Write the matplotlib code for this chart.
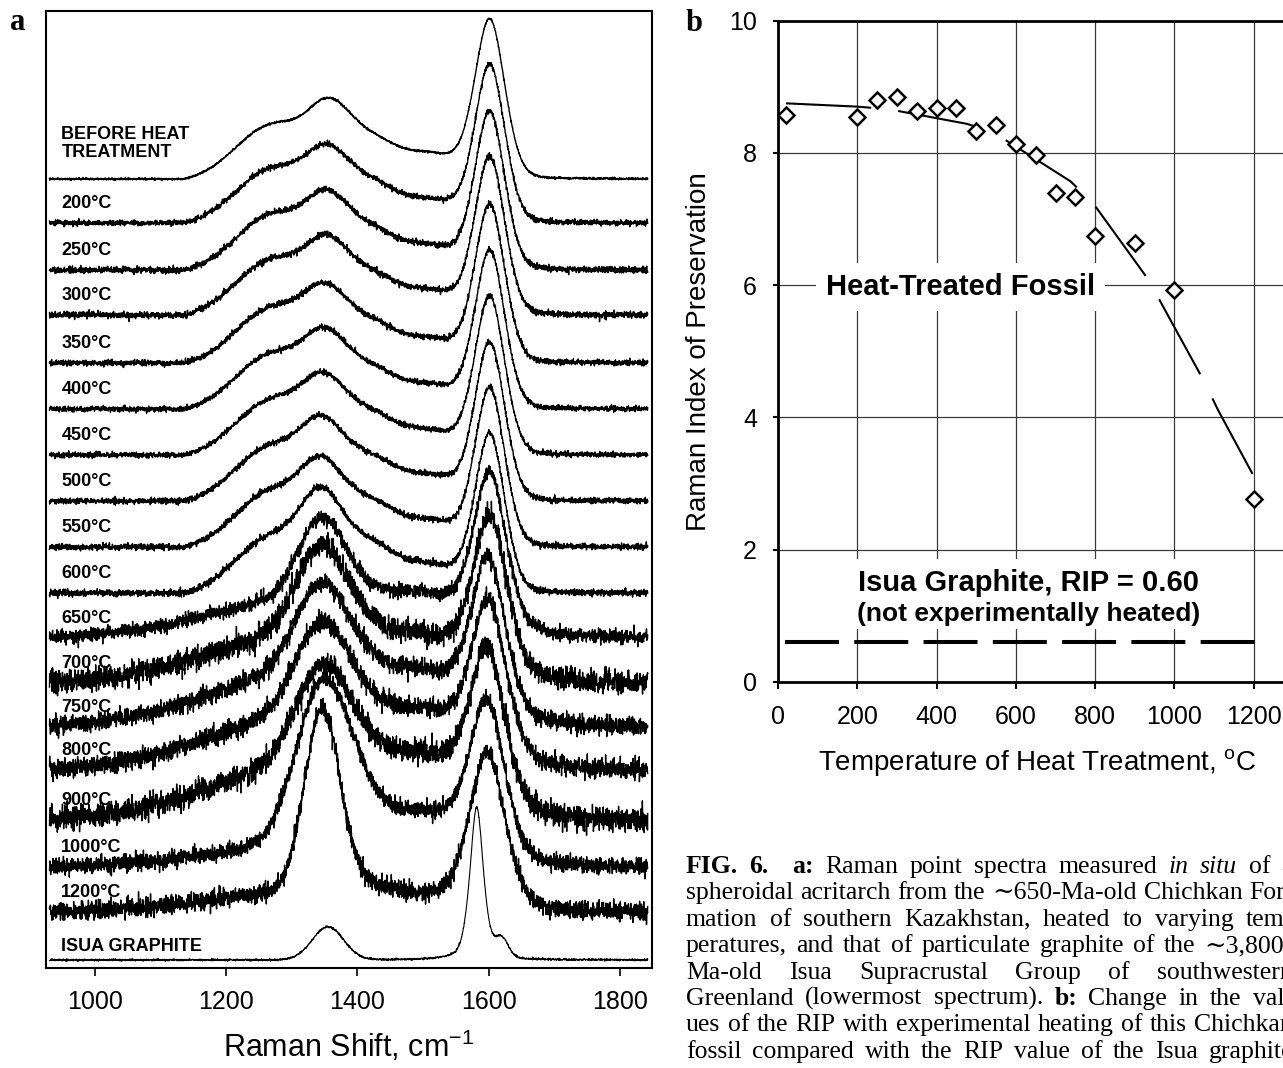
import numpy as np
import matplotlib
matplotlib.use("Agg")
import matplotlib.pyplot as plt
from matplotlib.patches import Rectangle

plt.rcParams['font.family'] = ['Liberation Sans', 'DejaVu Sans']
plt.rcParams['mathtext.fontset'] = 'custom'
plt.rcParams['mathtext.rm'] = 'Liberation Sans'
plt.rcParams['mathtext.it'] = 'Liberation Sans:italic'
plt.rcParams['mathtext.bf'] = 'Liberation Sans:bold'

# ---- panel a: stacked Raman spectra (band heights in plot units) ----
spec_labels = ['BEFORE HEAT\nTREATMENT', '200°C', '250°C', '300°C', '350°C', '400°C',
               '450°C', '500°C', '550°C', '600°C', '650°C', '700°C', '750°C', '800°C',
               '900°C', '1000°C', '1200°C', 'ISUA GRAPHITE']
spec_offset = [789, 745, 698, 653, 605, 559, 513, 467, 421, 375, 330, 285, 241, 198, 148, 101, 56, 8]
shoulder_h = [55, 55, 56, 56, 56, 56, 56, 56, 57, 58, 0, 0, 0, 0, 0, 0, 0, 0]
wing_h = [0, 0, 0, 0, 0, 0, 0, 0, 0, 0, 40, 50, 55, 55, 55, 22, 20, 0]
d_h = [45, 43, 44, 44, 44, 45, 46, 48, 52, 66, 78, 85, 85, 88, 95, 155, 180, 33]
d_pos = [1355, 1352, 1352, 1352, 1350, 1350, 1348, 1346, 1345, 1345, 1345, 1345, 1345, 1345, 1345, 1346, 1346, 1355]
d_w = [30, 30, 30, 30, 30, 30, 30, 30, 30, 30, 35, 38, 40, 40, 40, 40, 27, 24]
r_h = [40, 40, 40, 40, 40, 40, 41, 42, 44, 48, 10, 10, 12, 15, 20, 35, 10, 0]
v_h = [24, 22, 23, 23, 23, 23, 23, 24, 25, 27, 22, 20, 27, 30, 35, 40, 5, 0]
g_h = [156, 155, 155, 155, 155, 155, 155, 155, 155, 155, 155, 155, 155, 155, 155, 155, 155, 153]
g_pos = [1602, 1602, 1602, 1602, 1602, 1602, 1602, 1602, 1602, 1602, 1602, 1602, 1600, 1600, 1598, 1598, 1598, 1582]
g_w = [23, 23, 23, 23, 23, 23, 23, 23, 23, 23, 26, 27, 27, 28, 28, 28, 28, 11]
g_lor = [0.15] * 10 + [0.3] * 7 + [0.5]
dprime_h = [0] * 17 + [18]
noise = [0.5, 1.3, 1.5, 1.5, 1.4, 1.3, 1.3, 1.4, 1.5, 1.6, 3.4, 5.5, 4.2, 4.6, 5.6, 4.0, 4.5, 0.5]
onset = 1135

# ---- panel b: RIP vs. heat treatment ----
temps = [20, 200, 250, 300, 350, 400, 450, 500, 550, 600, 650, 700, 750, 800, 900, 1000, 1200]
rip = [8.58, 8.55, 8.80, 8.84, 8.63, 8.68, 8.68, 8.33, 8.42, 8.14, 7.97, 7.39, 7.34, 6.75, 6.64, 5.93, 2.76]
trend_t = [20, 200, 280, 476, 541, 738, 796, 937, 971, 1078, 1110, 1200]
trend_rip = [8.75, 8.70, 8.66, 8.44, 8.32, 7.57, 7.23, 6.06, 5.68, 4.51, 4.11, 3.11]
ISUA_RIP = 0.60

caption = [
    "**FIG.** **6.**  **a:** Raman point spectra measured *in* *situ* of a",
    "spheroidal acritarch from the \u223c650-Ma-old Chichkan For-",
    "mation of southern Kazakhstan, heated to varying tem-",
    "peratures, and that of particulate graphite of the \u223c3,800-",
    "Ma-old Isua Supracrustal Group of southwestern",
    "Greenland (lowermost spectrum). **b:** Change in the val-",
    "ues of the RIP with experimental heating of this Chichkan",
    "fossil compared with the RIP value of the Isua graphite",
]

W, H = 1283, 1068
fig = plt.figure(figsize=(W / 100, H / 100), dpi=100)


def px_box(left, top, right, bottom):
    return [left / W, 1 - bottom / H, (right - left) / W, (bottom - top) / H]


def gauss(x, c, s):
    return np.exp(-(x - c) ** 2 / (2 * s * s))


def lorentz(x, c, s):
    return 1 / (1 + ((x - c) / s) ** 2)


ax = fig.add_axes(px_box(46, 11, 652, 968))
wn = np.arange(930, 1843, 0.3)
rng = np.random.default_rng(6)

g_on = gauss(onset, 1275, 60)
shoulder = np.where(wn >= onset, np.clip(gauss(wn, 1275, 60) - g_on, 0, None) / (1 - g_on), 0)

for i in range(len(spec_labels)):
    y = (shoulder_h[i] * shoulder
         + wing_h[i] * gauss(wn, 1330, 150)
         + d_h[i] * gauss(wn, d_pos[i], d_w[i])
         + r_h[i] * gauss(wn, 1410, 40)
         + v_h[i] * gauss(wn, 1510, 50)
         + g_h[i] * ((1 - g_lor[i]) * gauss(wn, g_pos[i], g_w[i]) + g_lor[i] * lorentz(wn, g_pos[i], g_w[i]))
         + dprime_h[i] * gauss(wn, 1620, 10))
    y = y + noise[i] * rng.standard_normal(wn.size)
    lw = 0.8 if i == len(spec_labels) - 1 else 1.0
    ax.plot(wn, spec_offset[i] + y, color='black', lw=lw)

    lift = 15
    if i == 0:
        lift = 22
    elif i == len(spec_labels) - 1:
        lift = 9
    ax.text(948, spec_offset[i] + lift, spec_labels[i], fontsize=13, weight='bold',
            ha='left', va='baseline', linespacing=1.1)

ax.set_xlim(924.7, 1849.5)
ax.set_ylim(0, 957)
ax.set_yticks([])
ax.set_xticks([1000, 1200, 1400, 1600, 1800])
ax.tick_params(axis='x', direction='out', length=5.8, width=1.2, labelsize=18, pad=10)
for s in ax.spines.values():
    s.set_linewidth(1.5)
fig.text(349 / W, 1 - 1046 / H, 'Raman Shift, cm$^{-1}$', fontsize=22, ha='center', va='center')

# ---- panel b ----
bx = fig.add_axes(px_box(778, 20.7, 1333, 681.7))
bx.set_xlim(0, 1400)
bx.set_ylim(0, 10)
bx.set_xticks(range(0, 1401, 200))
bx.set_yticks(range(0, 11, 2))
bx.set_axisbelow(True)
bx.grid(True, color='#3a3a3a', lw=0.9)
for s in bx.spines.values():
    s.set_linewidth(2)
bx.tick_params(axis='both', labelsize=18, width=1.5, direction='out')
bx.tick_params(axis='x', length=5, pad=12)
bx.tick_params(axis='y', length=3.6, pad=11.5)

bx.plot(trend_t, trend_rip, color='black', lw=1.5, dashes=(41, 13), zorder=4)
bx.plot([17, 1218], [ISUA_RIP, ISUA_RIP], color='black', lw=2.9, dashes=(13.4, 3.8),
        dash_capstyle='butt', zorder=4)
bx.plot(temps, rip, 'D', ms=8, mfc='white', mec='black', mew=1.8, zorder=5, clip_on=False)

bx.text(460, 5.97, 'Heat-Treated Fossil', fontsize=21, weight='bold', ha='center', va='center',
        bbox=dict(fc='white', ec='none', pad=7), zorder=3)
# white panel behind the two-line Isua note
bx.add_patch(Rectangle((180, 0.79), 905, 1.06, fc='white', ec='none', zorder=2.5))
bx.text(631, 1.50, f'Isua Graphite, RIP = {ISUA_RIP:.2f}', fontsize=21, weight='bold',
        ha='center', va='center', zorder=3)
bx.text(631, 1.02, '(not experimentally heated)', fontsize=19, weight='bold',
        ha='center', va='center', zorder=3)

fig.text(1037 / W, 1 - 763 / H, r'Temperature of Heat Treatment, $^{\mathrm{o}}$C', fontsize=20,
         ha='center', va='center')
fig.text(699 / W, 1 - 352 / H, 'Raman Index of Preservation', fontsize=20, rotation=90,
         ha='center', va='center')

serif = ['Liberation Serif', 'DejaVu Serif']
fig.text(18 / W, 1 - 30 / H, 'a', family=serif, weight='bold', fontsize=22, ha='center', va='baseline')
fig.text(694 / W, 1 - 31 / H, 'b', family=serif, weight='bold', fontsize=22, ha='center', va='baseline')

# justified caption, one text per word
renderer = fig.canvas.get_renderer()
x0, x1 = 686, 1293
for k, line in enumerate(caption):
    y = 1 - (873 + k * 26.4) / H
    words = line.split(' ')
    arts = []
    for w in words:
        if w == '':
            arts.append(None)
            continue
        style, weight = 'normal', 'normal'
        if w.startswith('**'):
            w, weight = w.strip('*'), 'bold'
        elif w.startswith('*'):
            w, style = w.strip('*'), 'italic'
        arts.append(fig.text(0, y, w, family=serif, fontsize=18.5, style=style,
                             weight=weight, va='baseline', ha='left'))
    widths = [a.get_window_extent(renderer).width if a is not None else 0 for a in arts]
    gap = max((x1 - x0 - sum(widths)) / (len(words) - 1), 4)
    x = x0
    for a, wd in zip(arts, widths):
        if a is not None:
            a.set_x(x / W)
        x += wd + gap

fig.savefig('out.png', dpi=100)
